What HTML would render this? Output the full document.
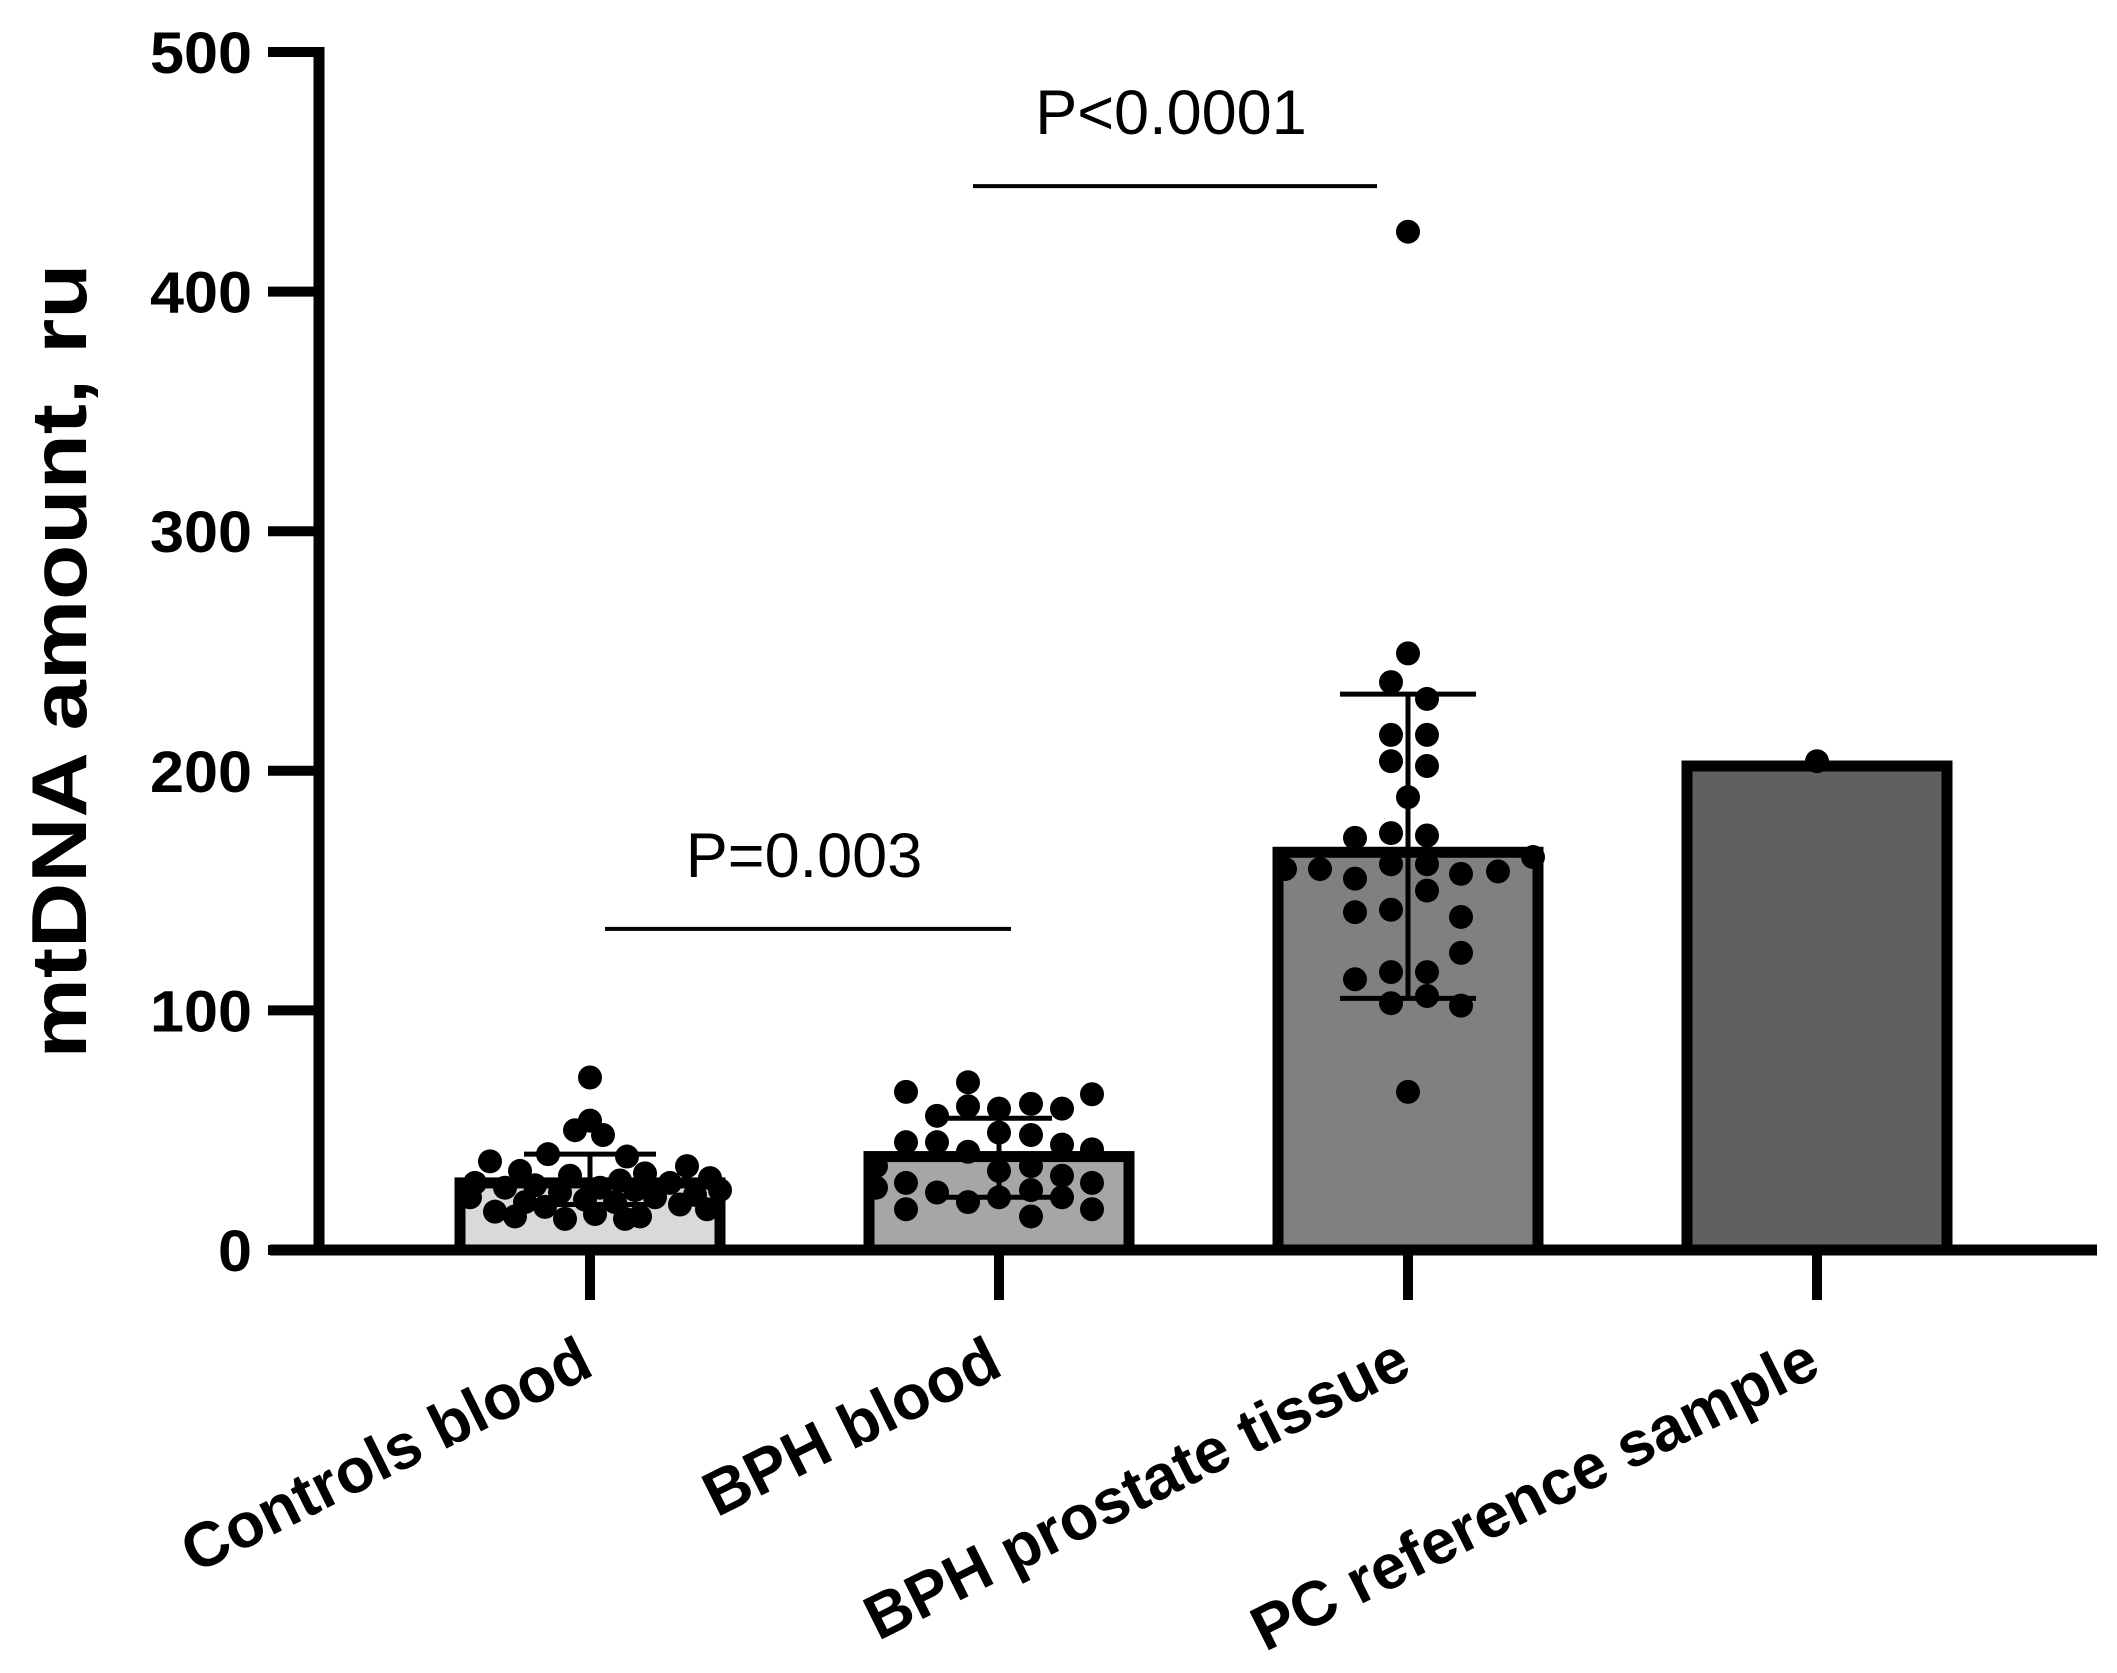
<!DOCTYPE html>
<html><head><meta charset="utf-8"><style>
html,body{margin:0;padding:0;background:#fff;}
svg{display:block;}
text{font-family:"Liberation Sans",Arial,sans-serif;}
</style></head><body>
<svg id="chart" width="2117" height="1673" viewBox="0 0 2117 1673">
<g id="bars"></g>
<g id="errs"></g>
<g id="dots"></g>
<g id="axes"></g>
<g id="sig"></g>
<text transform="translate(86,661) rotate(-90)" text-anchor="middle" font-size="78" font-weight="bold" textLength="795" lengthAdjust="spacingAndGlyphs">mtDNA amount, ru</text>
</svg>
<script>
const categories = ["Controls blood","BPH blood","BPH prostate tissue","PC reference sample"];
const means = [28,39,166,202];
const sdUpper = [40,55,232,null];
const sdLower = [19,22,105,null];
const fills = ["#d9d9d9","#a6a6a8","#808080","#606060"];
const yTicks = [0,100,200,300,400,500];
const controlsVals = [72,54,50,48,40,39,37,35,33,32,31,30,29,28,28,27,26,26,25,25,24,23,22,22,21,20,20,19,18,17,16,15,14,14,13,13];
const controlsOff = [0,0,-15,13,-42,37,-100,97,-70,55,-20,120,30,-115,80,-55,10,-85,45,130,-30,105,-120,65,-5,-65,25,90,-45,117,-95,5,-75,50,35,-25];
const bphBloodVals = [66,70,65,56,60,59,61,59,45,45,41,49,48,44,42,35,33,35,31,26,28,24,20,22,25,22,28,17,14,17];
const bphBloodOff = [-93,-31,93,-62,-31,0,32,63,-93,-62,-31,0,32,63,93,-123,0,32,63,-123,-93,-62,-31,0,32,63,93,-93,32,93];
const tissueVals = [425,249,237,230,215,215,204,202,189,172,174,173,159,159,155,161,161,157,158,164,150,141,142,139,124,113,116,116,103,106,102,66];
const tissueOff = [0,0,-17,19,-17,19,-17,19,0,-53,-17,19,-123,-88,-53,-17,19,53,90,125,19,-53,-17,53,53,-53,-17,19,-17,19,53,0];
const pcVals = [204];
const pcOff = [0];
const groupVals = [controlsVals,bphBloodVals,tissueVals,pcVals];
const groupOff = [controlsOff,bphBloodOff,tissueOff,pcOff];
const sigLabels = ["P=0.003","P<0.0001"];
const sigPairs = [[0,1],[1,2]];
const sigLevels = [134,444];

const NS="http://www.w3.org/2000/svg";
const x0=319, y0=1250, pxPer=2.396, xStart=590, xStep=409;
const yS=v=>y0-v*pxPer;
const xS=i=>xStart+i*xStep;
function mk(tag,attrs,parent){const e=document.createElementNS(NS,tag);for(const k in attrs)e.setAttribute(k,attrs[k]);parent.appendChild(e);return e;}
const bars=document.getElementById('bars'),errs=document.getElementById('errs'),dots=document.getElementById('dots'),axes=document.getElementById('axes'),sig=document.getElementById('sig');
const bw=260;
categories.forEach((c,i)=>{
  const r=mk('rect',{x:xS(i)-bw/2,y:yS(means[i]),width:bw,height:y0-yS(means[i]),fill:fills[i],stroke:'#000','stroke-width':11},bars);
  
  
});
groupVals.forEach((vals,i)=>{
  vals.forEach((v,j)=>{
    const d=mk('circle',{cx:xS(i)+groupOff[i][j],cy:yS(v),r:12,fill:'#000'},dots);
    
    
  });
});
const caps=[66,53,68];
categories.forEach((c,i)=>{
  if(sdUpper[i]==null)return;
  const g=mk('g',{stroke:'#000','stroke-width':5},errs);
  
  
  mk('line',{x1:xS(i),x2:xS(i),y1:yS(sdUpper[i]),y2:yS(sdLower[i])},g);
  mk('line',{x1:xS(i)-caps[i],x2:xS(i)+caps[i],y1:yS(sdUpper[i]),y2:yS(sdUpper[i])},g);
  mk('line',{x1:xS(i)-caps[i],x2:xS(i)+caps[i],y1:yS(sdLower[i]),y2:yS(sdLower[i])},g);
});
const ya=mk('line',{x1:x0,x2:x0,y1:yS(500)-5,y2:y0+5,stroke:'#000','stroke-width':11},axes);


const xa=mk('line',{x1:270,x2:2097,y1:y0,y2:y0,stroke:'#000','stroke-width':11},axes);


yTicks.forEach(t=>{
  const l=mk('line',{x1:268,x2:x0,y1:yS(t),y2:yS(t),stroke:'#000','stroke-width':10},axes);
  
  
  const s=String(t);
  const tx=mk('text',{x:252,y:yS(t)+21,'text-anchor':'end','font-size':58,'font-weight':'bold',textLength:34*s.length,lengthAdjust:'spacingAndGlyphs'},axes);
  tx.textContent=s;
  
  
});
categories.forEach((c,i)=>{
  const l=mk('line',{x1:xS(i),x2:xS(i),y1:y0,y2:1300,stroke:'#000','stroke-width':10},axes);
  
  
  const tx=mk('text',{'text-anchor':'end','font-size':63,'font-weight':'bold',transform:`translate(${xS(i)+6},1374) rotate(-26.5)`},axes);
  tx.textContent=c;
  
  
});
const sigL=[15,-26], sigR=[12,-31];
sigPairs.forEach((p,k)=>{
  const xa1=xS(p[0])+sigL[k], xb=xS(p[1])+sigR[k];
  const l=mk('line',{x1:xa1,x2:xb,y1:yS(sigLevels[k]),y2:yS(sigLevels[k]),stroke:'#000','stroke-width':4},sig);
  
  
  const tx=mk('text',{x:(xa1+xb)/2-4,y:yS(sigLevels[k])-52,'text-anchor':'middle','font-size':63},sig);
  tx.textContent=sigLabels[k];
  
  
});
</script>
</body></html>
